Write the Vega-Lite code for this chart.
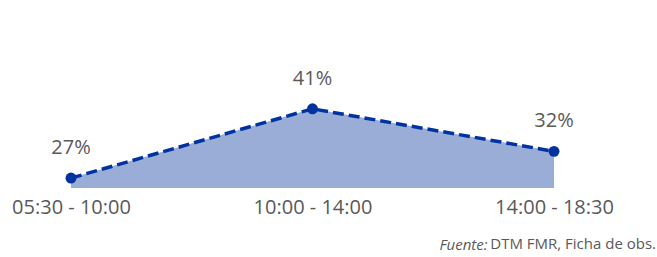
{
  "$schema": "https://vega.github.io/schema/vega-lite/v6.json",
  "autosize": {"type": "none"},
  "padding": {"left": 71, "right": 103, "top": 89, "bottom": 69},
  "width": 483,
  "height": 99,
  "background": "white",
  "config": {"view": {"stroke": null}, "font": "Open Sans"},
  "title": {
    "text": "DTM FMR, Ficha de obs.",
    "orient": "bottom",
    "anchor": "end",
    "frame": "group",
    "baseline": "alphabetic",
    "dx": 102,
    "offset": -3,
    "fontSize": 15,
    "fontWeight": "normal",
    "color": "#595959",
    "font": "Open Sans"
  },
  "data": {
    "values": [
      {"franja": "05:30 - 10:00", "pct": 0.27},
      {"franja": "10:00 - 14:00", "pct": 0.41},
      {"franja": "14:00 - 18:30", "pct": 0.324}
    ]
  },
  "encoding": {
    "x": {
      "field": "franja",
      "type": "ordinal",
      "scale": {"type": "point", "padding": 0},
      "axis": {
        "title": "Fuente:",
        "titleFontStyle": "italic",
        "titleFontWeight": "normal",
        "titleFontSize": 15,
        "titleColor": "#595959",
        "titleFont": "Open Sans",
        "titleAlign": "right",
        "titleAnchor": "end",
        "titleX": 416,
        "titleY": 61,
        "titleBaseline": "alphabetic",
        "labelAngle": 0,
        "labelFontSize": 20,
        "labelColor": "#595959",
        "labelPadding": 9,
        "labelFont": "Open Sans",
        "labelOverlap": false,
        "domain": false,
        "ticks": false,
        "grid": false
      }
    },
    "y": {
      "field": "pct",
      "type": "quantitative",
      "scale": {"domain": [0.25, 0.45], "zero": false, "nice": false},
      "axis": null
    }
  },
  "layer": [
    {
      "mark": {"type": "area", "color": "#99ADD6", "opacity": 1},
      "encoding": {"y2": {"datum": 0.25}}
    },
    {"mark": {"type": "line", "color": "#0033A0", "strokeWidth": 3.5, "strokeDash": [11, 5]}},
    {"mark": {"type": "point", "filled": true, "color": "#0033A0", "size": 120, "opacity": 1}},
    {
      "mark": {"type": "text", "fontSize": 20, "color": "#595959", "baseline": "middle", "font": "Open Sans"},
      "encoding": {
        "text": {"field": "pct", "type": "quantitative", "format": ".0%"},
        "yOffset": {
          "condition": {"test": "datum.franja === '05:30 - 10:00'", "value": -44},
          "value": -30
        }
      }
    }
  ]
}
